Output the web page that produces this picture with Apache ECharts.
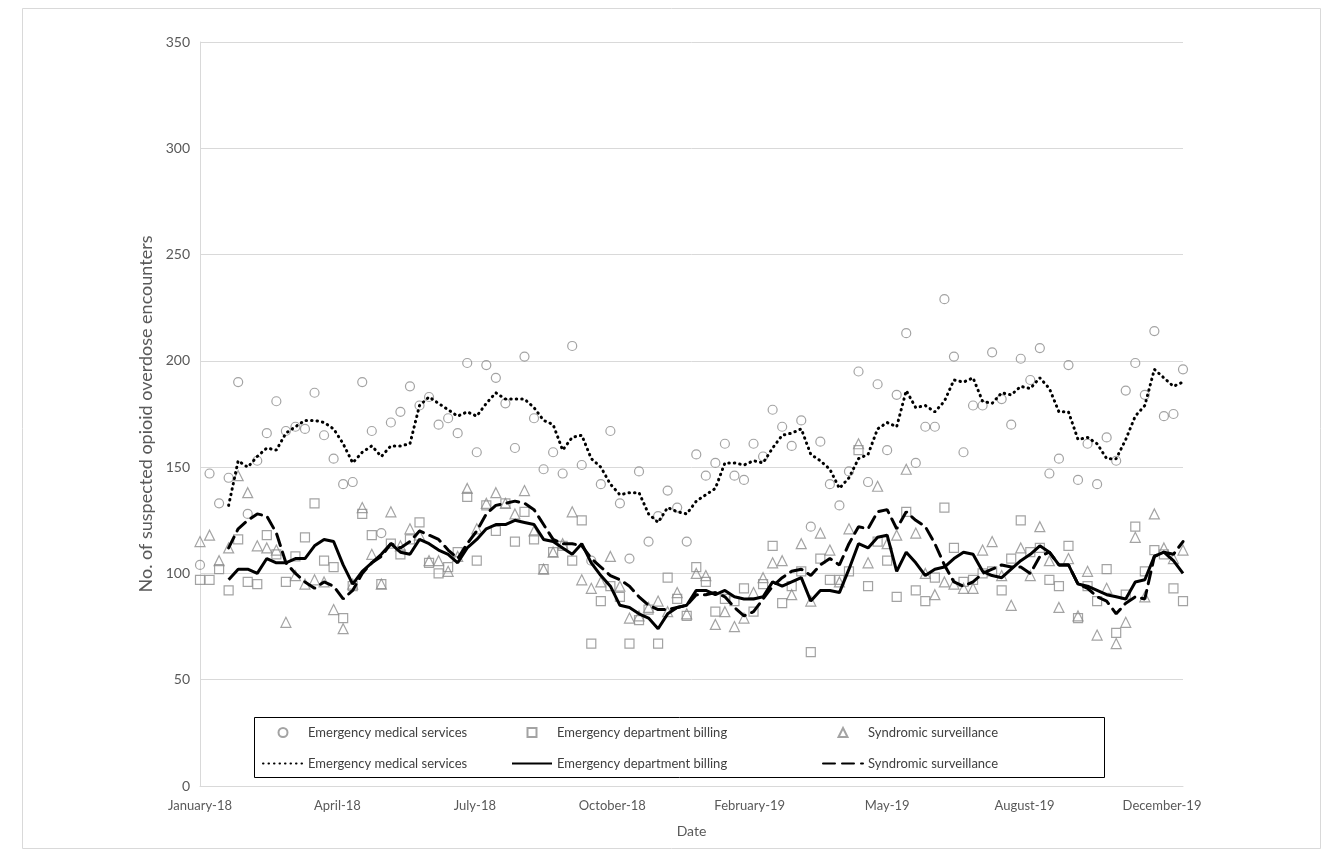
<!DOCTYPE html>
<html>
<head>
<meta charset="utf-8">
<script src="https://cdn.jsdelivr.net/npm/echarts@6/dist/echarts.min.js"></script>
<style>
  html, body { margin: 0; background: #fff; }
  #main { width: 1343px; height: 856px; }
</style>
</head>
<body>
<div id="main"></div>
<script>
"use strict";

// weekly counts, Jan 2018 - Dec 2019 (104 weeks)
const xLabels = ['January-18', 'April-18', 'July-18', 'October-18', 'February-19', 'May-19', 'August-19', 'December-19'];

const ems = [104,147,133,145,190,128,153,166,181,167, 169,168,185,165,154,142,143,190,167,119,
  171,176,188,179,183,170,173,166,199,157, 198,192,180,159,202,173,149,157,147,207,
  151,106,142,167,133,107,148,115,127,139, 131,115,156,146,152,161,146,144,161,155,
  177,169,160,172,122,162,142,132,148,195, 143,189,158,184,213,152,169,169,229,202,
  157,179,179,204,182,170,201,191,206,147, 154,198,144,161,142,164,153,186,199,184,
  214,174,175,196];

const edb = [97,97,102,92,116,96,95,118,109,96, 108,117,133,106,103,79,94,128,118,95,
  114,109,116,124,105,100,103,110,136,106, 132,120,133,115,129,116,102,110,113,106,
  125,67,87,94,89,67,78,83,67,98, 88,80,103,96,82,88,87,93,82,95,
  113,86,94,101,63,107,97,97,101,158, 94,115,106,89,129,92,87,98,131,112,
  96,97,100,101,92,107,125,110,112,97, 94,113,79,94,87,102,72,90,122,101,
  111,109,93,87];

const ss = [115,118,106,112,146,138,113,112,111,77, 99,95,97,96,83,74,95,131,109,95,
  129,113,121,118,106,106,101,108,140,121, 133,138,133,128,139,120,102,110,114,129,
  97,93,96,108,94,79,80,84,87,82, 91,81,100,99,76,82,75,79,91,98,
  105,106,90,114,87,119,111,96,121,161, 105,141,114,118,149,119,100,90,96,95,
  93,93,111,115,99,85,112,99,122,106, 84,107,80,101,71,93,67,77,117,89,
  128,112,107,111];

// moving averages (start at week 4)
const emsAvg = [null,null,null,132,153,150,155,159,158,166, 169,172,172,171,168,161,152,157,160,155,
  160,160,161,179,183,180,177,174,176,174, 180,185,182,182,182,178,172,170,158,164,
  165,154,150,142,137,138,138,128,124,131, 129,128,134,137,140,152,152,151,153,152,
  159,165,166,168,156,153,149,140,145,154, 156,168,171,169,186,178,179,176,181,191,
  190,192,181,180,185,184,188,187,192,187, 176,176,163,164,161,154,154,163,174,179,
  196,192,188,190];

const edbAvg = [null,null,null,97,102,102,100,107,105,105, 107,107,113,116,115,104,95,101,105,109,
  114,110,109,116,114,111,109,105,112,116, 121,123,123,125,124,123,116,115,112,109,
  114,105,99,94,85,84,81,79,74,81, 84,85,92,92,90,92,89,88,88,89,
  96,94,96,98,87,92,92,91,102,114, 112,117,118,101,110,105,99,102,103,107,
  110,109,101,99,98,102,106,109,113,110, 104,104,95,94,92,90,89,88,96,97,
  108,110,106,100];

const ssAvg = [null,null,null,112,121,125,128,127,119,105, 100,96,93,96,94,88,92,100,105,108,
  114,112,115,120,118,116,111,107,114,120, 128,132,133,134,133,130,123,116,114,114,
  113,107,103,99,97,94,89,85,83,83, 84,85,90,90,91,89,84,80,82,88,
  94,98,101,102,99,104,107,104,114,122, 121,129,130,121,129,125,122,114,104,96,
  94,96,100,102,104,103,103,100,108,110, 104,104,95,93,89,87,81,86,89,88,
  108,110,109,115];

const names = {
  ems: 'Emergency medical services',
  edb: 'Emergency department billing',
  ss: 'Syndromic surveillance',
  emsAvg: 'Emergency medical services',
  edbAvg: 'Emergency department billing',
  ssAvg: 'Syndromic surveillance',
};

const labelStep = 14.4;
const font = 'Lato, "Open Sans", sans-serif';
const markGrey = '#8c8c8c';

function toPoints(arr) {
  return arr.map((v, i) => [i, v]);
}

let myChart = echarts.init(document.getElementById('main'));

function scatter(key, symbol, size) {
  return {
    name: key,
    type: 'scatter',
    symbol: symbol,
    symbolSize: size,
    itemStyle: { color: 'rgba(255,255,255,0)', borderColor: markGrey, borderWidth: 1.2 },
    data: toPoints({ ems, edb, ss }[key]),
    z: 2,
  };
}

function avgLine(key, data, dash) {
  return {
    name: key,
    type: 'line',
    symbol: 'none',
    showSymbol: false,
    lineStyle: { color: '#000', width: 3, type: dash, cap: dash === 'solid' ? 'butt' : 'round' },
    itemStyle: { color: 'rgba(0,0,0,0)', borderColor: 'rgba(0,0,0,0)' },
    data: toPoints(data),
    z: 3,
  };
}

// one legend per entry so each sits where it does in the boxed key
function legendItem(key, lineLeft, top, isMark) {
  const w = isMark ? 9 : 40;
  return {
    left: isMark ? lineLeft + 15.5 : lineLeft,
    top: top,
    itemWidth: w,
    itemHeight: 9,
    padding: 0,
    selectedMode: false,
    data: [key],
    formatter: (n) => names[n],
    textStyle: {
      fontFamily: font, fontSize: 13, color: '#404040',
      padding: isMark ? [0, 0, 0, 15.5] : 0,
    },
    z: 6,
  };
}

let option = {
  backgroundColor: '#fff',
  animation: false,
  textStyle: { fontFamily: font },
  grid: { left: 200, right: 160, top: 42, bottom: 70 },
  graphic: [
    {
      type: 'rect',
      shape: { x: 22.5, y: 8.5, width: 1298, height: 840 },
      style: { fill: 'none', stroke: '#d9d9d9', lineWidth: 1 },
      silent: true,
      z: 0,
    },
    {
      type: 'rect',
      shape: { x: 254.5, y: 717.5, width: 850, height: 60 },
      style: { fill: '#fff', stroke: '#000', lineWidth: 1 },
      silent: true,
      z: 5,
    },
  ],
  legend: [
    legendItem('ems', 262, 726, true),
    legendItem('edb', 511, 726, true),
    legendItem('ss', 822, 726, true),
    legendItem('emsAvg', 262, 757, false),
    legendItem('edbAvg', 511, 757, false),
    legendItem('ssAvg', 822, 757, false),
  ],
  xAxis: {
    type: 'value',
    min: 0,
    max: 103,
    interval: labelStep,
    name: 'Date',
    nameLocation: 'middle',
    nameGap: 38,
    nameTextStyle: { fontFamily: font, fontSize: 14, color: '#595959' },
    axisLine: { lineStyle: { color: '#d9d9d9' } },
    axisTick: { show: false },
    splitLine: { show: false },
    axisLabel: {
      margin: 13,
      color: '#595959',
      fontSize: 13,
      fontFamily: font,
      showMaxLabel: false,
      formatter: (v) => {
        const k = Math.round(v / labelStep);
        return Math.abs(v - k * labelStep) < 0.01 ? (xLabels[k] || '') : '';
      },
    },
  },
  yAxis: {
    type: 'value',
    min: 0,
    max: 350,
    interval: 50,
    name: 'No. of suspected opioid overdose encounters',
    nameLocation: 'middle',
    nameGap: 38,
    nameTextStyle: { fontFamily: font, fontSize: 18, color: '#595959' },
    axisLine: { show: true, lineStyle: { color: '#d9d9d9' } },
    axisTick: { show: false },
    splitLine: { lineStyle: { color: '#d9d9d9' } },
    axisLabel: { margin: 10, color: '#595959', fontSize: 14, fontFamily: font },
  },
  series: [
    scatter('ems', 'circle', 9),
    scatter('edb', 'rect', 9),
    scatter('ss', 'triangle', 10),
    avgLine('emsAvg', emsAvg, [0.5, 5]),
    avgLine('edbAvg', edbAvg, 'solid'),
    avgLine('ssAvg', ssAvg, [12, 7]),
  ],
};

myChart.setOption(option);
</script>
</body>
</html>
